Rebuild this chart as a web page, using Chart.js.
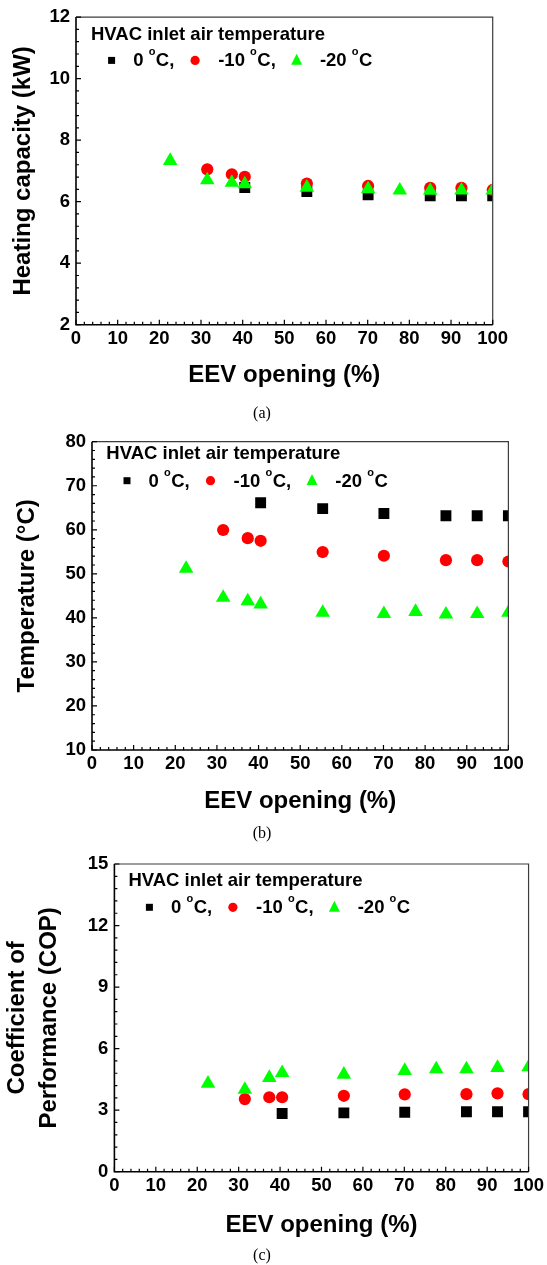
<!DOCTYPE html>
<html><head><meta charset="utf-8">
<script src="https://cdn.jsdelivr.net/npm/chart.js@4/dist/chart.umd.min.js"></script>
<style>
body{margin:0;background:#fff;width:547px;height:1265px;position:relative;overflow:hidden}
.wrap{position:absolute;left:0;width:547px}
.cap{position:absolute;left:232px;width:60px;height:20px;line-height:20px;text-align:center;font-family:"Liberation Serif","Times New Roman",serif;font-size:16px;color:#000}
</style></head><body>
<div class="wrap" style="top:0;height:400px"><canvas id="ca" width="547" height="400" style="width:547px;height:400px"></canvas></div>
<div class="wrap" style="top:420px;height:400px"><canvas id="cb" width="547" height="400" style="width:547px;height:400px"></canvas></div>
<div class="wrap" style="top:840px;height:410px"><canvas id="cc" width="547" height="410" style="width:547px;height:410px"></canvas></div>
<div class="cap" style="top:403px">(a)</div>
<div class="cap" style="top:823px">(b)</div>
<div class="cap" style="top:1245px">(c)</div>
<script>
// ---------- data ----------
const xTitle = 'EEV opening (%)';
const legendTitle = 'HVAC inlet air temperature';
const seriesNames = ['0', '-10', '-20'];

const x0C   = [40.5, 55.4, 70.1, 85, 92.5, 100];
const x10C  = [31.5, 37.4, 40.5, 55.4, 70.1, 85, 92.5, 100];
const x20C  = [22.6, 31.5, 37.4, 40.5, 55.4, 70.1, 77.7, 85, 92.5, 100];

// (a) heating capacity (kW)
const capTitle = 'Heating capacity (kW)';
const cap0   = [6.46, 6.33, 6.22, 6.19, 6.19, 6.19];
const cap10  = [7.05, 6.89, 6.81, 6.59, 6.51, 6.45, 6.45, 6.38];
const cap20  = [7.33, 6.70, 6.62, 6.57, 6.46, 6.41, 6.37, 6.36, 6.37, 6.37];

// (b) temperature (°C)
const tempTitle = 'Temperature (°C)';
const temp0  = [66.15, 64.8, 63.7, 63.2, 63.2, 63.2];
const temp10 = [59.95, 58.1, 57.5, 54.95, 54.1, 53.1, 53.1, 52.8];
const temp20 = [51.2, 44.6, 43.8, 43.1, 41.2, 40.9, 41.4, 40.8, 40.9, 41.2];

// (c) COP
const copTitle = ['Coefficient of', 'Performance (COP)'];
const cop0   = [2.84, 2.87, 2.90, 2.92, 2.92, 2.92];
const cop10  = [3.54, 3.63, 3.63, 3.70, 3.77, 3.78, 3.82, 3.78];
const cop20  = [4.30, 4.00, 4.58, 4.82, 4.74, 4.92, 5.00, 5.00, 5.07, 5.10];

// ---------- drawing ----------
const FONT = '"Liberation Sans", Arial, Helvetica, sans-serif';
const BLACK = '#000000', RED = '#ff0000', GREEN = '#00ff00';

function pts(xs, ys) { return xs.map((x, i) => ({x: x, y: ys[i]})); }

function drawMarker(ctx, style, x, y, s) {
  ctx.beginPath();
  if (style === 'rect') { ctx.rect(x - s.sq/2, y - s.sq/2, s.sq, s.sq); ctx.fillStyle = BLACK; }
  else if (style === 'circle') { ctx.arc(x, y, s.ci, 0, Math.PI*2); ctx.fillStyle = RED; }
  else { ctx.moveTo(x, y - s.tr*0.6); ctx.lineTo(x + s.tr/2, y + s.tr*0.4); ctx.lineTo(x - s.tr/2, y + s.tr*0.4); ctx.closePath(); ctx.fillStyle = GREEN; }
  ctx.fill();
}

function drawDegText(ctx, x, yb, prefix, suffix) {
  ctx.font = 'bold 18.5px ' + FONT;
  ctx.fillText(prefix + ' ', x, yb);
  let cx = x + ctx.measureText(prefix + ' ').width;
  ctx.font = 'bold 11px ' + FONT;
  ctx.fillText('o', cx, yb - 11);
  cx += ctx.measureText('o').width + 0.5;
  ctx.font = 'bold 18.5px ' + FONT;
  ctx.fillText('C' + suffix, cx, yb);
}

const framePlugin = {
  id: 'frameTicks',
  afterDatasetsDraw(chart, args, o) {
    const {ctx, chartArea: {left, right, top, bottom}, scales: {x, y}} = chart;
    ctx.save();
    // top/right frame
    ctx.strokeStyle = '#3c3c3c'; ctx.lineWidth = 1.2;
    ctx.beginPath(); ctx.moveTo(left, top); ctx.lineTo(right, top); ctx.lineTo(right, bottom); ctx.stroke();
    // left/bottom spines
    ctx.strokeStyle = '#000'; ctx.lineWidth = 1.6;
    ctx.beginPath(); ctx.moveTo(left, top); ctx.lineTo(left, bottom); ctx.lineTo(right, bottom); ctx.stroke();
    // ticks (inward)
    ctx.lineWidth = 1.2;
    ctx.beginPath();
    for (let v = 0; v <= 100; v += 2) {
      const px = x.getPixelForValue(v);
      const len = (v % 10 === 0) ? 5 : 3;
      ctx.moveTo(px, bottom); ctx.lineTo(px, bottom - len);
    }
    const minor = o.step / 5;
    const n = Math.round((o.max - o.min) / minor);
    for (let i = 0; i <= n; i++) {
      const py = y.getPixelForValue(o.min + i * minor);
      const len = (i % 5 === 0) ? 5 : 3;
      ctx.moveTo(left, py); ctx.lineTo(left + len, py);
    }
    ctx.stroke();
    // legend
    const L = left, T = top, lg = o.lg;
    ctx.fillStyle = '#000';
    ctx.textBaseline = 'alphabetic';
    ctx.textAlign = 'left';
    ctx.font = 'bold 18.5px ' + FONT;
    ctx.fillText(legendTitle, L + lg.tx, T + lg.ty);
    const yb = T + lg.ry, yc = yb - 6;
    const m0 = L + lg.mx;
    const s = {sq: 7, ci: 4.6, tr: 11};
    drawMarker(ctx, 'rect', m0, yc, s);
    ctx.fillStyle = '#000'; drawDegText(ctx, m0 + 21.6, yb, seriesNames[0], ',');
    drawMarker(ctx, 'circle', m0 + 83.5, yc, s);
    ctx.fillStyle = '#000'; drawDegText(ctx, m0 + 106.6, yb, seriesNames[1], ',');
    drawMarker(ctx, 'triangle', m0 + 185, yc, s);
    ctx.fillStyle = '#000'; drawDegText(ctx, m0 + 208.3, yb, seriesNames[2], '');
    ctx.restore();
  }
};

function makeChart(id, c) {
  const H = c.h;
  return new Chart(document.getElementById(id), {
    type: 'scatter',
    data: {
      datasets: [
        {label: seriesNames[0], data: pts(x0C, c.d0), pointStyle: 'rect', pointRadius: 7.7, backgroundColor: BLACK, borderColor: BLACK, borderWidth: 0, clip: 0, order: 3},
        {label: seriesNames[1], data: pts(x10C, c.d10), pointStyle: 'circle', pointRadius: 6.1, backgroundColor: RED, borderColor: RED, borderWidth: 0, clip: 0, order: 2},
        {label: seriesNames[2], data: pts(x20C, c.d20), pointStyle: 'triangle', pointRadius: 8.4, backgroundColor: GREEN, borderColor: GREEN, borderWidth: 0, clip: 0, order: 1}
      ]
    },
    options: {
      responsive: false,
      animation: false,
      events: [],
      layout: {padding: {left: 0, top: c.top, right: 547 - c.right, bottom: 0}},
      plugins: {
        legend: {display: false},
        tooltip: {enabled: false},
        frameTicks: {min: c.min, max: c.max, step: c.step, lg: c.lg}
      },
      scales: {
        x: {
          type: 'linear', min: 0, max: 100,
          grid: {display: false, drawTicks: false},
          border: {display: false},
          ticks: {stepSize: 10, padding: 3, color: '#000', font: {family: FONT, size: 18.5, weight: 'bold'}, maxRotation: 0},
          title: {display: true, text: xTitle, color: '#000', font: {family: FONT, size: 24, weight: 'bold'}, padding: {top: 0, bottom: c.xtp}},
          afterFit: s => { s.height = H - c.bottom; }
        },
        y: {
          type: 'linear', min: c.min, max: c.max,
          grid: {display: false, drawTicks: false},
          border: {display: false},
          ticks: {stepSize: c.step, padding: 6, color: '#000', font: {family: FONT, size: 18.5, weight: 'bold'}},
          title: {display: true, text: c.yTitle, color: '#000', font: {family: FONT, size: 24, weight: 'bold', lineHeight: c.ylh}, padding: {top: c.ytp, bottom: 0}},
          afterFit: s => { s.width = c.left; }
        }
      }
    },
    plugins: [framePlugin]
  });
}

makeChart('ca', {h: 400, left: 76, right: 492.7, top: 16.7, bottom: 324.7, min: 2, max: 12, step: 2,
  d0: cap0, d10: cap10, d20: cap20, yTitle: capTitle, ylh: 1.2, ytp: 9, xtp: 10,
  lg: {tx: 15, ty: 22.6, mx: 35.6, ry: 49.3}});
makeChart('cb', {h: 400, left: 92, right: 508.4, top: 21.7, bottom: 330, min: 10, max: 80, step: 10,
  d0: temp0, d10: temp10, d20: temp20, yTitle: tempTitle, ylh: 1.2, ytp: 12.6, xtp: 4,
  lg: {tx: 14.3, ty: 17.6, mx: 35, ry: 45}});
makeChart('cc', {h: 410, left: 114.4, right: 531, top: 24, bottom: 331.7, min: 0, max: 15, step: 3,
  d0: cop0, d10: cop10, d20: cop20, yTitle: copTitle, ylh: 1.31, ytp: 1.8, xtp: 10.6,
  lg: {tx: 14, ty: 21.7, mx: 35, ry: 49.3}});
</script>
</body></html>
